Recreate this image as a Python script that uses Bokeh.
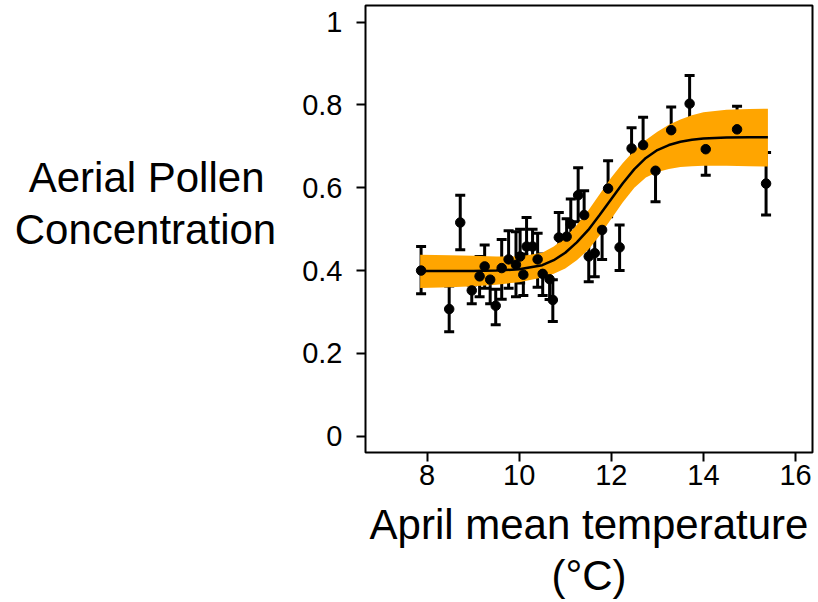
from bokeh.plotting import figure
from bokeh.models import ColumnDataSource, Whisker, TeeHead, FixedTicker, Range1d
from bokeh.embed import file_html
from bokeh.resources import INLINE

temperature = [7.87, 8.48, 8.72, 8.97, 9.14, 9.25, 9.37, 9.49, 9.62, 9.77, 9.93, 10.02,
               10.09, 10.16, 10.29, 10.40, 10.51, 10.66, 10.73, 10.86, 11.03, 11.12,
               11.28, 11.41, 11.51, 11.64, 11.80, 11.93, 12.18, 12.44, 12.69, 12.96,
               13.30, 13.70, 14.05, 14.73, 15.36]
pollen = [0.400, 0.307, 0.516, 0.352, 0.386, 0.410, 0.378, 0.315, 0.406, 0.427, 0.414, 0.434,
          0.390, 0.458, 0.458, 0.427, 0.392, 0.379, 0.329, 0.480, 0.482, 0.512,
          0.582, 0.534, 0.434, 0.442, 0.498, 0.598, 0.456, 0.695, 0.703, 0.641,
          0.739, 0.803, 0.693, 0.741, 0.610]
pollen_low = [0.344, 0.252, 0.450, 0.320, 0.337, 0.357, 0.320, 0.269, 0.331, 0.357, 0.337, 0.370,
              0.340, 0.400, 0.410, 0.360, 0.340, 0.330, 0.277, 0.418, 0.440, 0.454,
              0.518, 0.470, 0.373, 0.385, 0.427, 0.530, 0.400, 0.635, 0.635, 0.566,
              0.681, 0.735, 0.630, 0.681, 0.534]
pollen_high = [0.458, 0.363, 0.582, 0.365, 0.434, 0.462, 0.420, 0.355, 0.475, 0.496, 0.494, 0.500,
               0.440, 0.528, 0.500, 0.490, 0.440, 0.435, 0.378, 0.540, 0.525, 0.573,
               0.648, 0.593, 0.490, 0.495, 0.570, 0.665, 0.510, 0.745, 0.770, 0.711,
               0.795, 0.871, 0.753, 0.797, 0.685]

# ---- fitted curve and its confidence band ----
fit_temp = [7.85, 8.5, 9.0, 9.5, 10.0, 10.5, 10.75, 11.0, 11.25, 11.5, 11.75, 12.0,
            12.25, 12.5, 12.75, 13.0, 13.25, 13.5, 13.75, 14.0, 14.5, 15.0, 15.4]
fit_value = [0.399, 0.399, 0.399, 0.400, 0.403, 0.413, 0.425, 0.443, 0.468, 0.498, 0.535, 0.573,
             0.611, 0.645, 0.672, 0.691, 0.703, 0.711, 0.716, 0.719, 0.721, 0.722, 0.722]
band_low = [0.358, 0.360, 0.362, 0.366, 0.372, 0.383, 0.392, 0.405, 0.425, 0.450, 0.485, 0.525,
            0.565, 0.600, 0.625, 0.638, 0.645, 0.650, 0.652, 0.653, 0.653, 0.652, 0.651]
band_high = [0.438, 0.437, 0.436, 0.434, 0.434, 0.443, 0.458, 0.480, 0.510, 0.545, 0.585, 0.625,
             0.660, 0.690, 0.715, 0.735, 0.752, 0.765, 0.775, 0.782, 0.788, 0.790, 0.791]

x_ticks = [8, 10, 12, 14, 16]
y_ticks = [0, 0.2, 0.4, 0.6, 0.8, 1.0]
y_tick_labels = {0: "0", 0.2: "0.2", 0.4: "0.4", 0.6: "0.6", 0.8: "0.8", 1.0: "1"}
x_title = "April mean temperature\n(°C)"
# non-breaking space pads line 1 so the two lines look centred; the blank last
# line lifts the block to where the reference shows it
y_title = "Aerial Pollen\u00a0\nConcentration\n\u00a0"

FONT = "Liberation Sans"

p = figure(width=818, height=602, output_backend="svg", toolbar_location=None,
           x_range=Range1d(6.663, 16.368), y_range=Range1d(-0.0393, 1.040),
           min_border_left=365, min_border_right=6, min_border_top=5, min_border_bottom=149)
p.grid.visible = False
p.background_fill_color = "white"
p.border_fill_color = "white"
p.outline_line_color = "black"
p.outline_line_width = 2

# band and fit
p.varea(x=fit_temp, y1=band_low, y2=band_high, fill_color="#FFA500", fill_alpha=1.0)
p.line(x=fit_temp, y=fit_value, line_color="black", line_width=2.5)

# error bars and points
src = ColumnDataSource(dict(x=temperature, y=pollen, lo=pollen_low, hi=pollen_high))
w = Whisker(base="x", lower="lo", upper="hi", source=src, line_color="black", line_width=3,
            upper_head=TeeHead(size=10, line_width=3, line_color="black"),
            lower_head=TeeHead(size=10, line_width=3, line_color="black"))
p.add_layout(w)
p.scatter(x="x", y="y", source=src, size=9.5, color="black")

# axes
for ax in (p.xaxis[0], p.yaxis[0]):
    ax.axis_line_color = None
    ax.minor_tick_line_color = None
    ax.major_tick_line_width = 2
    ax.major_tick_line_color = "black"
    ax.major_tick_out = 9
    ax.major_tick_in = 0
    ax.major_label_text_font = FONT
    ax.major_label_text_font_size = "29px"
    ax.major_label_text_color = "black"
    ax.axis_label_text_font = FONT
    ax.axis_label_text_font_size = "42px"
    ax.axis_label_text_font_style = "normal"
    ax.axis_label_text_color = "black"
    ax.axis_label_text_align = "center"
    ax.axis_label_text_line_height = 1.1
p.xaxis.ticker = FixedTicker(ticks=x_ticks)
p.yaxis.ticker = FixedTicker(ticks=y_ticks)
p.yaxis.major_label_overrides = y_tick_labels
p.xaxis.major_label_standoff = 3
p.yaxis.major_label_standoff = 14

p.xaxis.axis_label = x_title
p.xaxis.axis_label_standoff = 13
p.yaxis.axis_label = y_title
p.yaxis.axis_label_orientation = "horizontal"
p.yaxis.axis_label_standoff = 23

open("out.html", "w").write(file_html(p, INLINE))
